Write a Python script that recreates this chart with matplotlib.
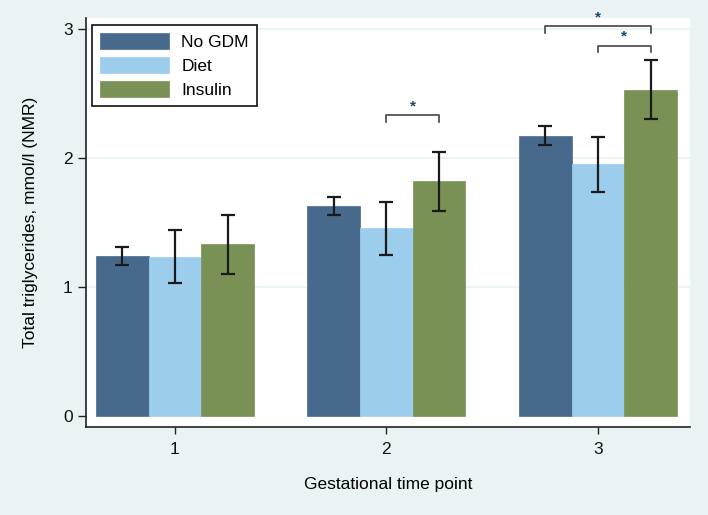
import numpy as np
import matplotlib.pyplot as plt

plt.rcParams['font.family'] = ['Liberation Sans', 'DejaVu Sans']

timepoints = [1, 2, 3]
groups = ["No GDM", "Diet", "Insulin"]
colors = ["#476a8c", "#9dcdec", "#7a9155"]

means = {
    "No GDM": [1.24, 1.63, 2.17],
    "Diet": [1.23, 1.46, 1.95],
    "Insulin": [1.33, 1.82, 2.53],
}
lower = {
    "No GDM": [1.17, 1.56, 2.10],
    "Diet": [1.03, 1.25, 1.74],
    "Insulin": [1.10, 1.59, 2.30],
}
upper = {
    "No GDM": [1.31, 1.70, 2.25],
    "Diet": [1.44, 1.66, 2.16],
    "Insulin": [1.56, 2.05, 2.76],
}

# significance brackets: (timepoint, group_a, group_b, height)
sig_pairs = [
    (2, 1, 2, 2.33),
    (3, 0, 2, 3.02),
    (3, 1, 2, 2.87),
]

bg = "#eaf2f3"
fig = plt.figure(figsize=(7.08, 5.15), dpi=100, facecolor=bg)
ax = fig.add_axes([86/708, (515-427)/515, (690-86)/708, (427-18)/515])
ax.set_facecolor("white")

w = 0.249
x = np.array(timepoints, dtype=float)
for i, g in enumerate(groups):
    xs = x + (i - 1) * w
    ax.bar(xs, means[g], width=w, color=colors[i], edgecolor=colors[i],
           linewidth=0.5, label=g, zorder=2)
    m = np.array(means[g])
    err = [m - np.array(lower[g]), np.array(upper[g]) - m]
    ax.errorbar(xs, m, yerr=err, fmt="none", ecolor="#1a1a1a",
                elinewidth=1.6, capsize=5, capthick=1.6, zorder=3)

for tp, a, b, h in sig_pairs:
    xa = tp + (a - 1) * w
    xb = tp + (b - 1) * w
    ax.plot([xa, xa, xb, xb], [h - 0.05, h, h, h - 0.05], color="#444444",
            lw=1.2, zorder=3, clip_on=False)
    ax.text((xa + xb) / 2, h + 0.015, "*", color="#1a476f", ha="center",
            va="bottom", fontsize=11, fontweight="bold", clip_on=False)

ax.set_xlim(0.58, 3.435)
ax.set_ylim(-0.085, 3.085)
ax.set_yticks([0, 1, 2, 3])
ax.set_xticks(timepoints)
for yv in [1, 2, 3]:
    ax.axhline(yv, color=bg, lw=1.2, zorder=1)

for s in ["top", "right"]:
    ax.spines[s].set_visible(False)
for s in ["left", "bottom"]:
    ax.spines[s].set_color("#222222")
    ax.spines[s].set_linewidth(1.2)
ax.tick_params(axis="both", direction="out", length=6, width=1,
               colors="#222222", labelsize=12.5, labelcolor="#111111")
ax.tick_params(axis="x", length=5, pad=6)

ax.set_xlabel("Gestational time point", fontsize=12.5, labelpad=14)
ax.set_ylabel("Total triglycerides, mmol/l (NMR)", fontsize=12.5, labelpad=18)

leg = ax.legend(loc="upper left", bbox_to_anchor=(0.0099, 0.983), fontsize=12.5,
                fancybox=False, framealpha=1, edgecolor="#111111",
                handlelength=4.0, handleheight=1.05, borderpad=0.45,
                labelspacing=0.42, handletextpad=0.7, borderaxespad=0)
leg.get_frame().set_linewidth(1.2)

fig.savefig("out.png", dpi=100, facecolor=bg)
